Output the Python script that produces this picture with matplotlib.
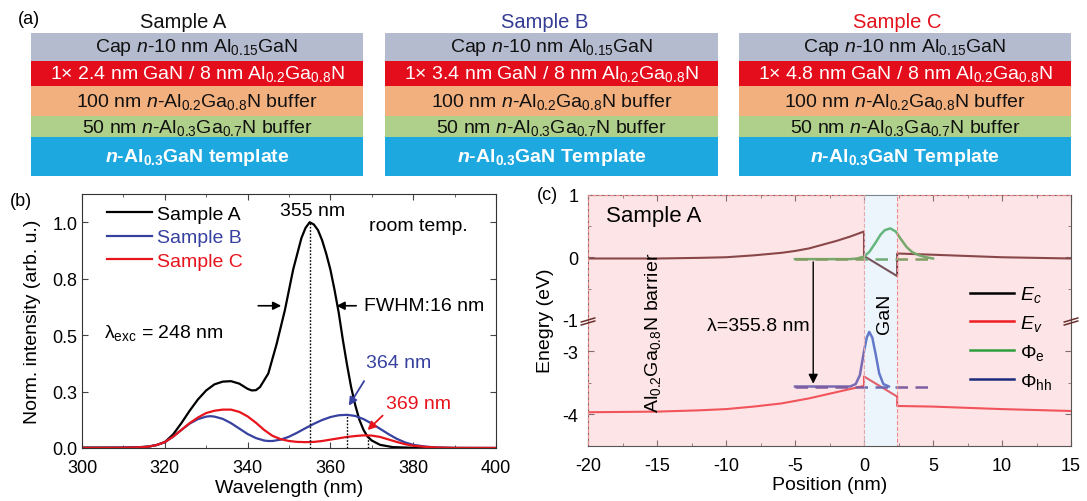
import numpy as np
import matplotlib
matplotlib.use("Agg")
import matplotlib.pyplot as plt
from matplotlib.lines import Line2D

plt.rcParams['font.family'] = ['Liberation Sans', 'DejaVu Sans']
plt.rcParams['axes.unicode_minus'] = False
plt.rcParams['mathtext.fontset'] = 'custom'
plt.rcParams['mathtext.rm'] = 'Liberation Sans'
plt.rcParams['mathtext.it'] = 'Liberation Sans:italic'
plt.rcParams['mathtext.bf'] = 'Liberation Sans:bold'
plt.rcParams['mathtext.bfit'] = 'Liberation Sans:italic:bold'
plt.rcParams['mathtext.sf'] = 'Liberation Sans'

# ---------------- (a) layer stacks ----------------
samples = ["Sample A", "Sample B", "Sample C"]
sample_colors = ["#111111", "#343c94", "#e3121c"]
well_widths = ["2.4", "3.4", "4.8"]
template_words = ["template", "Template", "Template"]
layer_colors = ["#b4bbcf", "#e30d1b", "#f2b07f", "#afd08a", "#1ea8e0"]
layer_heights = [27.7, 25.6, 29.4, 21.6, 38.7]   # drawn thickness of each layer
layer_text_colors = ["#111111", "white", "#111111", "#111111", "white"]

# ---------------- (b) PL spectra ----------------
wl_a = [300, 305, 310, 313, 316, 318, 320, 322, 324, 326, 328, 330, 332, 334, 336,
        338, 340, 341, 342, 343, 345, 347, 349, 351, 353, 354, 355, 356, 357, 358,
        359, 360, 361, 362, 363, 364, 365, 366, 367, 368, 369, 370, 372, 375, 380, 400]
int_a = [0.002, 0.002, 0.002, 0.003, 0.006, 0.013, 0.026, 0.06, 0.11, 0.165, 0.215, 0.255,
         0.282, 0.294, 0.296, 0.285, 0.262, 0.255, 0.256, 0.27, 0.33, 0.46, 0.61, 0.79,
         0.93, 0.975, 1.0, 0.99, 0.965, 0.92, 0.86, 0.79, 0.70, 0.60, 0.48, 0.37, 0.27,
         0.19, 0.125, 0.08, 0.05, 0.033, 0.014, 0.004, 0.001, 0.0]
wl_b = [300, 310, 314, 316, 318, 320, 322, 324, 326, 328, 330, 331, 332, 334, 336, 338,
        340, 342, 344, 345, 346, 348, 350, 352, 354, 356, 358, 360, 362, 364, 366, 368,
        370, 372, 374, 376, 378, 380, 383, 386, 390, 400]
int_b = [0.0, 0.001, 0.003, 0.006, 0.013, 0.026, 0.05, 0.08, 0.108, 0.128, 0.139, 0.141,
         0.139, 0.129, 0.11, 0.086, 0.062, 0.044, 0.033, 0.031, 0.031, 0.037, 0.05, 0.068,
         0.088, 0.107, 0.124, 0.137, 0.145, 0.147, 0.142, 0.128, 0.108, 0.085, 0.062,
         0.041, 0.025, 0.014, 0.006, 0.002, 0.0, 0.0]
wl_c = [300, 310, 314, 316, 318, 320, 322, 324, 326, 328, 330, 332, 334, 336, 338, 340,
        342, 344, 346, 348, 350, 352, 354, 356, 358, 360, 362, 364, 366, 368, 370, 372,
        374, 376, 378, 380, 383, 386, 390, 400]
int_c = [0.0, 0.001, 0.003, 0.006, 0.013, 0.026, 0.05, 0.08, 0.11, 0.135, 0.155, 0.165,
         0.17, 0.17, 0.16, 0.14, 0.112, 0.08, 0.054, 0.039, 0.031, 0.027, 0.026, 0.027,
         0.031, 0.037, 0.043, 0.049, 0.053, 0.056, 0.055, 0.049, 0.038, 0.027, 0.017,
         0.01, 0.005, 0.002, 0.0, 0.0]
peak_wl = [355, 364, 369]
peak_int = [1.0, 0.147, 0.056]

# ---------------- (c) band diagram ----------------
ec_x = [-20, -15, -12, -10, -8, -6, -5, -4, -3, -2, -1, 0, 0, 2.4, 2.4, 5, 10, 15]
ec_e = [-0.02, -0.02, -0.01, 0.0, 0.03, 0.07, 0.1, 0.14, 0.2, 0.26, 0.33, 0.41,
        0.02, -0.30, 0.06, 0.04, 0.0, -0.02]
ev_x = [-20, -15, -12, -10, -8, -6, -5, -4, -3, -2, -1, 0, 0, 2.4, 2.4, 5, 10, 15]
ev_e = [-3.97, -3.96, -3.94, -3.92, -3.88, -3.83, -3.79, -3.75, -3.70, -3.65, -3.60,
        -3.55, -3.40, -3.72, -3.87, -3.88, -3.92, -3.95]
phie_x = [-5, -1, -0.5, 0, 0.4, 0.8, 1.2, 1.5, 1.9, 2.3, 2.7, 3.1, 3.5, 4.0, 4.5, 5.0]
phie_e = [-0.03, -0.03, -0.02, 0.01, 0.09, 0.22, 0.36, 0.43, 0.46, 0.41, 0.28, 0.16,
          0.08, 0.03, 0.0, -0.02]
phih_x = [-5, -1, -0.6, -0.3, 0, 0.2, 0.38, 0.6, 0.85, 1.1, 1.4, 1.8]
phih_e = [-3.56, -3.56, -3.52, -3.38, -3.0, -2.78, -2.69, -2.78, -3.05, -3.35, -3.52, -3.56]
level_x = [-5, 5]
level_e = -0.03
level_h = -3.56
gan_well = [0, 2.4]


def ybreak(e):
    # compress the empty gap between -1 and -3 eV
    e = np.asarray(e, dtype=float)
    return np.where(e < -2, e + 1.5, e)


fig = plt.figure(figsize=(10.87, 5.02), dpi=100)
W, H = 1087.0, 502.0

# ---- panel (a)
stack_left = [31, 385, 739]
stack_width = [332, 333, 332]
title_cx = [183, 545, 897]
for i in range(3):
    ax = fig.add_axes([stack_left[i] / W, (H - 177) / H, stack_width[i] / W, 143 / H])
    texts = [r"Cap $n$-10 nm Al$_{0.15}$GaN",
             r"1× " + well_widths[i] + r" nm GaN / 8 nm Al$_{0.2}$Ga$_{0.8}$N",
             r"100 nm $n$-Al$_{0.2}$Ga$_{0.8}$N buffer",
             r"50 nm $n$-Al$_{0.3}$Ga$_{0.7}$N buffer",
             r"$\mathbfit{n}$-Al$_{\mathbf{0.3}}$GaN " + template_words[i]]
    top = sum(layer_heights)
    for h, c, t, tc in zip(layer_heights, layer_colors, texts, layer_text_colors):
        ax.bar(0, h, bottom=top - h, width=1, color=c, edgecolor='none')
        bold = 'bold' if t.startswith(r"$\mathbfit") else 'normal'
        ax.text(0, top - h / 2, t, ha='center', va='center', color=tc,
                fontsize=14, fontweight=bold)
        top -= h
    ax.set_xlim(-0.5, 0.5)
    ax.set_ylim(0, sum(layer_heights))
    ax.axis('off')
    fig.text(title_cx[i] / W, 1 - 22 / H, samples[i], ha='center', va='center',
             fontsize=14.5, color=sample_colors[i])

fig.text(18 / W, 1 - 20 / H, "(a)", ha='left', va='center', fontsize=13)
fig.text(10 / W, 1 - 202 / H, "(b)", ha='left', va='center', fontsize=13)
fig.text(537 / W, 1 - 196 / H, "(c)", ha='left', va='center', fontsize=13)

# ---- panel (b)
axb = fig.add_axes([82 / W, (H - 449) / H, 414 / W, 254 / H])
axb.plot(wl_a, int_a, color='black', lw=1.6, label="Sample A")
axb.plot(wl_b, int_b, color='#3641a0', lw=1.6, label="Sample B")
axb.plot(wl_c, int_c, color='#e8141c', lw=1.6, label="Sample C")
for wl, pk in zip(peak_wl, peak_int):
    axb.plot([wl, wl], [0, pk], color='black', ls=(0, (1.2, 1.2)), lw=1.0)
axb.set_xlim(300, 400)
axb.set_ylim(0, 1.125)
axb.set_xticks(np.arange(300, 401, 20))
axb.set_xticks(np.arange(310, 400, 20), minor=True)
axb.set_yticks([0, 0.25, 0.5, 0.75, 1.0])
axb.set_yticklabels(["0.0", "0.3", "0.5", "0.8", "1.0"])
axb.tick_params(which='both', direction='in', top=True, right=True, labelsize=13,
                color='#444444')
axb.tick_params(which='major', length=4)
axb.tick_params(which='minor', length=2.5)
axb.tick_params(axis='x', pad=8)
for s in axb.spines.values():
    s.set_color('#333333')
axb.set_xlabel("Wavelength (nm)", fontsize=14, labelpad=2)
axb.set_ylabel("Norm. intensity (arb. u.)", fontsize=14, labelpad=8)
leg = axb.legend(loc='upper left', bbox_to_anchor=(0.06, 0.955), frameon=False,
                 fontsize=14, handlelength=2.3, handletextpad=0.3, labelspacing=0.3,
                 borderaxespad=0, borderpad=0)
for txt, c in zip(leg.get_texts(), ['black', '#3641a0', '#e8141c']):
    txt.set_color(c)
axb.text(355.8, 1.05, "355 nm", ha='center', va='center', fontsize=14)
axb.text(369.4, 0.985, "room temp.", ha='left', va='center', fontsize=14)
axb.text(368.1, 0.63, "FWHM:16 nm", ha='left', va='center', fontsize=14)
axb.annotate("", xy=(348.8, 0.63), xytext=(341.9, 0.63),
             arrowprops=dict(arrowstyle='-|>', color='black', lw=1.2, mutation_scale=12))
axb.annotate("", xy=(360.8, 0.63), xytext=(366.9, 0.63),
             arrowprops=dict(arrowstyle='-|>', color='black', lw=1.2, mutation_scale=12))
axb.text(305.2, 0.513, r"λ$_{\rm exc}$ = 248 nm", ha='left', va='center', fontsize=14)
axb.text(368.5, 0.38, "364 nm", ha='left', va='center', fontsize=14, color='#3641a0')
axb.annotate("", xy=(364.1, 0.177), xytext=(368.5, 0.307),
             arrowprops=dict(arrowstyle='-|>', color='#3641a0', lw=1.3, mutation_scale=12))
axb.text(373.4, 0.196, "369 nm", ha='left', va='center', fontsize=14, color='#e8141c')
axb.annotate("", xy=(368.5, 0.071), xytext=(373.1, 0.152),
             arrowprops=dict(arrowstyle='-|>', color='#e8141c', lw=1.3, mutation_scale=12))

# ---- panel (c)
axc = fig.add_axes([588 / W, (H - 446.5) / H, 483 / W, 251 / H])
axc.plot(ec_x, ybreak(ec_e), color='#4a0808', lw=1.5, zorder=2)
axc.plot(ev_x, ybreak(ev_e), color='#ee1c24', lw=1.5, zorder=2)
axc.plot(phie_x, ybreak(phie_e), color='#2f9e3e', lw=1.8, zorder=2)
axc.plot(phih_x, ybreak(phih_e), color='#2c40b0', lw=1.8, zorder=2)
axc.plot(level_x, ybreak([level_e, level_e]), color='#3f8f30', lw=1.8, ls=(0, (5, 3)),
         zorder=2)
axc.plot(level_x, ybreak([level_h, level_h]), color='#3a2a90', lw=1.8, ls=(0, (5, 3)),
         zorder=2)
# barrier / well shading drawn over the curves
axc.axvspan(-20, gan_well[0], facecolor=(0.98, 0.72, 0.74, 0.36),
            edgecolor='#f08a8a', ls='--', lw=0.8, zorder=3)
axc.axvspan(gan_well[1], 15, facecolor=(0.98, 0.72, 0.74, 0.36),
            edgecolor='#f08a8a', ls='--', lw=0.8, zorder=3)
axc.axvspan(gan_well[0], gan_well[1], facecolor=(0.80, 0.89, 0.97, 0.35),
            edgecolor='none', zorder=3)
axc.annotate("", xy=(-3.68, ybreak(level_h)), xytext=(-3.68, ybreak(level_e)),
             arrowprops=dict(arrowstyle='-|>', color='black', lw=1.0, mutation_scale=14),
             zorder=5)
axc.set_xlim(-20, 15)
axc.set_ylim(-3, 1)
axc.set_xticks(np.arange(-20, 16, 5))
axc.set_xticks(np.arange(-17.5, 15, 5), minor=True)
axc.set_yticks([1, 0, -1, -1.5, -2.5])
axc.set_yticklabels(["1", "0", "-1", "-3", "-4"])
axc.set_yticks([0.5, -0.5, -2.0], minor=True)
axc.tick_params(which='both', direction='in', top=True, right=True, labelsize=13,
                color='#444444')
axc.tick_params(which='major', length=4)
axc.tick_params(which='minor', length=2.5)
axc.tick_params(axis='x', pad=8)
axc.tick_params(axis='y', pad=7)
axc.yaxis.get_major_ticks()[2].tick1line.set_visible(False)
axc.yaxis.get_major_ticks()[2].tick2line.set_visible(False)
for s in axc.spines.values():
    s.set_color('#555555')
axc.set_xlabel("Position (nm)", fontsize=14, labelpad=2)
axc.set_ylabel("Enegry (eV)", fontsize=14, labelpad=6)
axc.text(-18.7, 0.66, "Sample A", ha='left', va='center', fontsize=16, zorder=5)
axc.text(1.45, -0.88, "GaN", rotation=90, ha='center', va='center', fontsize=14, zorder=5)
axc.text(-3.95, -1.09, "λ=355.8 nm", ha='right', va='center', fontsize=14, zorder=5)
axc.text(-15.3, -2.47, r"Al$_{0.2}$Ga$_{0.8}$N barrier", rotation=90, ha='center',
         va='bottom', fontsize=14, zorder=5)
handles = [Line2D([], [], color='black', lw=1.8),
           Line2D([], [], color='#ee1c24', lw=1.8),
           Line2D([], [], color='#2f9e3e', lw=1.8),
           Line2D([], [], color='#1d2c7a', lw=1.8)]
labels = [r"$E_c$", r"$E_v$", r"Φ$_{\rm e}$", r"Φ$_{\rm hh}$"]
legc = axc.legend(handles, labels, loc='center left', bbox_to_anchor=(0.79, 0.43),
                  frameon=False, fontsize=14, handlelength=2.3, handletextpad=0.3,
                  labelspacing=0.45, borderaxespad=0, borderpad=0)
legc.set_zorder(6)
# axis break marks at -1 eV
for xb in (0, 1):
    for off in (-0.012, 0.0):
        axc.plot([xb - 0.014, xb + 0.014], [0.5 + off - 0.008, 0.5 + off + 0.008],
                 transform=axc.transAxes, clip_on=False, color='#6a3030', lw=1.1, zorder=7)

fig.savefig("out.png", dpi=100)
